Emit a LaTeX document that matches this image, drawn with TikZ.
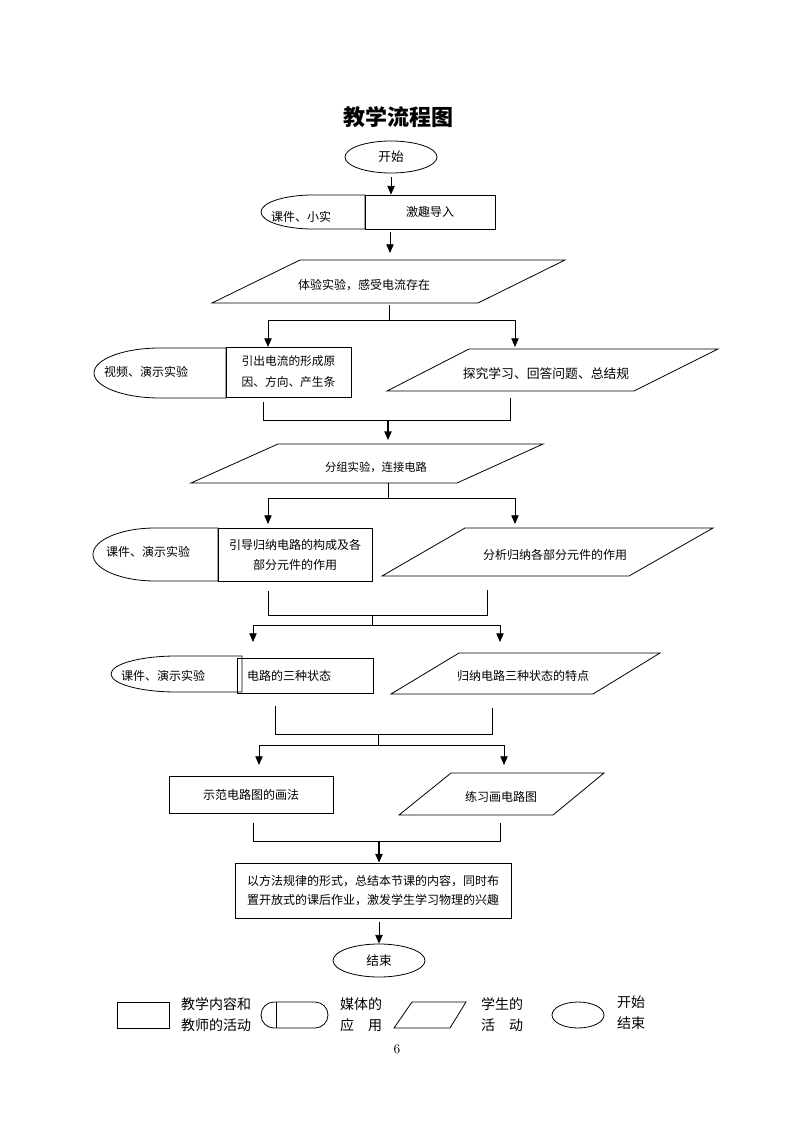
\documentclass[tikz,border=0pt]{standalone}
\usepackage{fontspec}
\newfontfamily\cjk{Noto Sans CJK SC}
\usetikzlibrary{shapes.geometric,arrows.meta}
\begin{document}
\begin{tikzpicture}[x=0.75pt,y=-0.75pt,
  line width=0.6pt,
  box/.style={draw, rectangle, inner sep=0pt, align=center, font=\cjk\fontsize{9}{15}\selectfont},
  oval/.style={draw, ellipse, inner sep=0pt, font=\cjk\fontsize{9.5}{12}\selectfont},
  txt/.style={inner sep=0pt, align=center, font=\cjk\fontsize{9}{15}\selectfont},
  arr/.style={-{Triangle[length=6.5pt,width=5.5pt]}},
  boldarr/.style={-{Triangle[length=6.5pt,width=5.5pt]}, line width=1.1pt},
  legtxt/.style={inner sep=0pt, align=center, font=\cjk\fontsize{10.5}{15.75}\selectfont},
]
\useasboundingbox (0,0) rectangle (794,1123);
\fill[white] (0,0) rectangle (794,1123);

% title
\node[font=\cjk\bfseries\fontsize{16.5}{20}\selectfont] (title) at (398,117) {教学流程图};

% start
\node[oval, minimum width=69pt, minimum height=24pt] (start) at (391,157) {开始};

% row 1
\draw (365,195) -- (313,195) arc[start angle=90,end angle=270,x radius=39pt,y radius=12.75pt] -- (365,229) -- cycle;
\node[txt] (m1) at (301,217) {课件、小实};
\node[box, minimum width=97.5pt, minimum height=25.5pt] (intro) at (430,212) {激趣导入};

% parallelogram 1
\draw (300,260) -- (565,260) -- (478,303) -- (212,303) -- cycle;
\node[txt] (p1) at (364,285) {体验实验，感受电流存在};

% row 2
\draw (226,348) -- (160,348) arc[start angle=90,end angle=270,x radius=49.5pt,y radius=18.75pt] -- (226,398) -- cycle;
\node[txt] (m2) at (146,372) {视频、演示实验};
\node[box, minimum width=93.75pt, minimum height=37.5pt, font=\cjk\fontsize{8.8}{15.75}\selectfont] (r2) at (288.5,372) {引出电流的形成原\\因、方向、产生条};
\draw (469,349) -- (718,349) -- (634,391) -- (387,391) -- cycle;
\node[txt, font=\cjk\fontsize{9.6}{15}\selectfont] (p2) at (546,374) {探究学习、回答问题、总结规};

% parallelogram 3
\draw (278,444) -- (543,444) -- (457,483) -- (191,483) -- cycle;
\node[txt, font=\cjk\fontsize{8.5}{12}\selectfont] (p3) at (376,467) {分组实验，连接电路};

% row 3
\draw (218,528) -- (155.5,528) arc[start angle=90,end angle=270,x radius=46.875pt,y radius=19.875pt] -- (218,581) -- cycle;
\node[txt] (m3) at (148,552) {课件、演示实验};
\node[box, minimum width=115.5pt, minimum height=39.75pt] (r3) at (295,554.5) {引导归纳电路的构成及各\\部分元件的作用};
\draw (465,528) -- (713,528) -- (629,576) -- (382,576) -- cycle;
\node[txt] (p4) at (555,555) {分析归纳各部分元件的作用};

% row 4
\draw (242,656) -- (176.5,656) arc[start angle=90,end angle=270,x radius=49.125pt,y radius=13.5pt] -- (242,692) -- cycle;
\node[txt] (m4) at (163,676) {课件、演示实验};
\node[box, minimum width=94.5pt, minimum height=26.25pt, text width=87pt, align=left, inner xsep=7.5pt] (r4) at (305,675.5) {电路的三种状态};
\draw (459,653) -- (660,653) -- (593,694) -- (391,694) -- cycle;
\node[txt] (p5) at (523,676) {归纳电路三种状态的特点};

% row 5
\node[box, minimum width=123pt, minimum height=27.75pt] (r5) at (251,794.5) {示范电路图的画法};
\draw (451,773) -- (604,773) -- (553,815) -- (399,815) -- cycle;
\node[txt] (p6) at (501,797) {练习画电路图};

% summary
\node[box, minimum width=207pt, minimum height=41.25pt, font=\cjk\fontsize{9}{14.25}\selectfont] (sum) at (373,890.5) {以方法规律的形式，总结本节课的内容，同时布\\置开放式的课后作业，激发学生学习物理的兴趣};

% end
\node[oval, minimum width=69pt, minimum height=24.75pt] (end) at (379,960.5) {结束};

% ---------- connectors ----------
\draw[arr, shorten <=3pt] (start.south) -- (start.south |- intro.north);
\coordinate (a2s) at (390,232);
\coordinate (a2e) at (390,253);
\draw[arr] (a2s) -- (a2e);

% split 1
\coordinate (p1b) at (389,305);
\coordinate (s1) at (389,320);
\coordinate (s1l) at (268,320);
\coordinate (s1r) at (515,320);
\draw (p1b) -- (s1);
\draw (s1l) -- (s1r);
\draw[arr] (s1l) -- (268,347);
\draw[arr] (s1r) -- (515,347);

% merge 1
\coordinate (j1l) at (263,402);
\coordinate (j1r) at (510,398);
\coordinate (j1) at (388,420);
\draw (j1l) -- (263,420) -- (510,420) -- (j1r);
\draw[boldarr] (j1) -- (388,440);

% split 2
\coordinate (p3b) at (388,483);
\coordinate (s2) at (388,498);
\coordinate (s2l) at (268,498);
\coordinate (s2r) at (515,498);
\draw (p3b) -- (s2);
\draw (s2l) -- (s2r);
\draw[arr] (s2l) -- (268,524);
\draw[arr] (s2r) -- (515,524);

% merge 2 / split 3
\coordinate (j2l) at (268,591);
\coordinate (j2r) at (487,590);
\coordinate (j2) at (372,615);
\coordinate (s3) at (372,625);
\coordinate (s3l) at (253,625);
\coordinate (s3r) at (500,625);
\draw (j2l) -- (268,615) -- (487,615) -- (j2r);
\draw (j2) -- (s3);
\draw (s3l) -- (s3r);
\draw[arr] (s3l) -- (253,642);
\draw[arr] (s3r) -- (500,642);

% merge 3 / split 4
\coordinate (j3l) at (275,706);
\coordinate (j3r) at (492,708);
\coordinate (j3) at (378,734);
\coordinate (s4) at (378,745);
\coordinate (s4l) at (259,745);
\coordinate (s4r) at (504,745);
\draw (j3l) -- (275,734) -- (492,734) -- (j3r);
\draw (j3) -- (s4);
\draw (s4l) -- (s4r);
\draw[arr] (s4l) -- (259,765);
\draw[arr] (s4r) -- (504,765);

% merge 4
\coordinate (j4l) at (253,823);
\coordinate (j4r) at (500,823);
\coordinate (j4) at (379,841);
\draw (j4l) -- (253,841) -- (500,841) -- (j4r);
\draw[boldarr] (j4) -- (j4 |- sum.north);

% to end
\draw[arr, shorten <=3pt] (sum.south -| end.north) -- (end.north);

% ---------- legend ----------
\node[draw, rectangle, minimum width=39pt, minimum height=19.5pt] (lrect) at (143,1015) {};
\node[legtxt] (lt1) at (216,1014.5) {教学内容和\\教师的活动};
\node[draw, rectangle, rounded corners=9.75pt, minimum width=50.25pt, minimum height=19.5pt] (lmedia) at (294.5,1015) {};
\draw ([xshift=12pt]lmedia.north west) -- ([xshift=12pt]lmedia.south west);
\node[legtxt] (lt2) at (361,1014.5) {媒体的\\应　用};
\draw (412,1002) -- (466,1002) -- (450,1028) -- (394,1028) -- cycle;
\node[legtxt] (lt3) at (502,1014.5) {学生的\\活　动};
\node[draw, ellipse, minimum width=39pt, minimum height=19.5pt] (loval) at (578,1015) {};
\node[legtxt] (lt4) at (631,1012.5) {开始\\结束};

\node[font=\fontsize{10}{12}\selectfont, inner sep=0pt] (pg) at (397,1049) {6};
\end{tikzpicture}
\end{document}
